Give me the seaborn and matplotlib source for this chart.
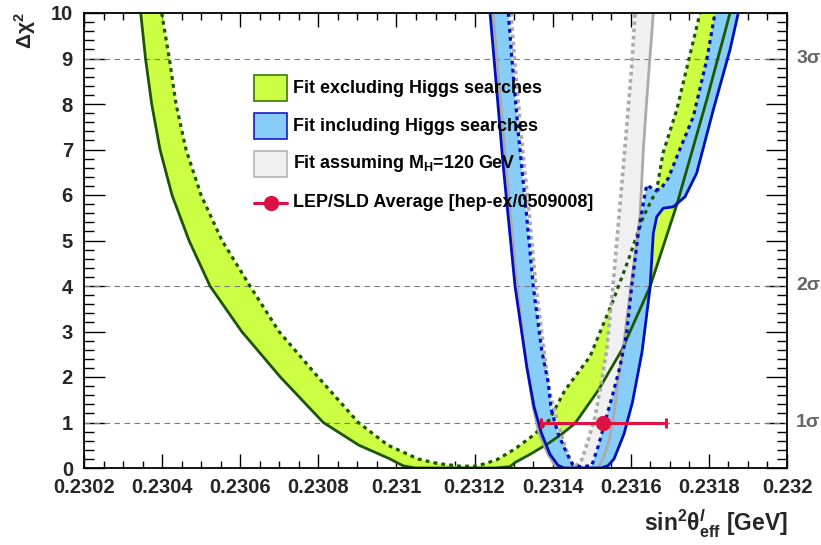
import numpy as np
import matplotlib
matplotlib.use("Agg")
import matplotlib.pyplot as plt
from matplotlib.ticker import MultipleLocator
from matplotlib.patches import Rectangle
import seaborn as sns

# ---------------- data ----------------
# Fit excluding Higgs searches: solid (theory envelope) and dotted curves
gs_x = [0.2303452, 0.2303575, 0.2303733, 0.2303946, 0.2304253, 0.2304689, 0.2305226,
        0.2306038, 0.2307026, 0.2308127, 0.2309041, 0.2309835, 0.2310168, 0.2310475,
        0.2312524, 0.2312908, 0.2313036, 0.2313420, 0.2313889, 0.2314239, 0.2314572,
        0.2315169, 0.2315768, 0.2316492, 0.2317176, 0.2317944, 0.2318541]
gs_y = [10, 9, 8, 7, 6, 5, 4, 3, 2, 1, 0.5, 0.2, 0.05, 0.0,
        0.0, 0.03, 0.12, 0.3, 0.54, 0.75, 0.98, 1.71, 2.59, 3.98, 5.78, 8.09, 10]
gd_x = [0.2303990, 0.2304184, 0.2304356, 0.2304612, 0.2304996, 0.2305533, 0.2306250,
        0.2306993, 0.2307992, 0.2309024, 0.2309784, 0.2310552, 0.2311039, 0.2311627,
        0.2312055, 0.2312567, 0.2313036, 0.2313522, 0.2313906, 0.2314316, 0.2314956,
        0.2315552, 0.2315937, 0.2316321, 0.2316492, 0.2316664, 0.2316825, 0.2317176,
        0.2317773]
gd_y = [10, 9, 8, 7, 6, 5, 4, 3, 2, 1, 0.5, 0.2, 0.1, 0.04,
        0.04, 0.18, 0.42, 0.73, 1.05, 1.71, 2.45, 3.69, 4.57, 5.52, 5.82, 6.11, 6.92, 7.87,
        10]

# Fit including Higgs searches
bs_x = [0.2312396, 0.2312498, 0.2312736, 0.2313036, 0.2313335, 0.2313522, 0.2313714,
        0.2313932, 0.2314137, 0.2314290, 0.2315238, 0.2315417, 0.2315571, 0.2315827,
        0.2316044, 0.2316288, 0.2316492, 0.2316577, 0.2316664, 0.2316832, 0.2317088,
        0.2317388, 0.2317687, 0.2318112, 0.2318540, 0.2318752]
bs_y = [10, 9, 6.62, 4.0, 2.23, 1.35, 0.76, 0.30, 0.06, 0.0, 0.0, 0.05, 0.2, 0.75, 1.45,
        2.55, 3.95, 5.16, 5.52, 5.71, 5.74, 5.96, 6.48, 7.87, 9.19, 10]
bd_x = [0.2312864, 0.2312951, 0.2313120, 0.2313335, 0.2313504, 0.2313719, 0.2313889,
        0.2313958, 0.2314137, 0.2314342, 0.2314508, 0.2314700, 0.2315000, 0.2315174,
        0.2315353, 0.2315532, 0.2315724, 0.2315896, 0.2316024, 0.2316193, 0.2316321,
        0.2316408, 0.2316577, 0.2316748, 0.2316961, 0.2317217, 0.2317601, 0.2317944,
        0.2318157]
bd_y = [10, 9.04, 7.36, 5.52, 3.98, 2.59, 1.86, 1.3, 0.76, 0.36, 0.08, 0.03, 0.05, 0.5,
        1.05, 1.6, 2.23, 2.96, 4.0, 5.16, 5.82, 6.22, 6.13, 6.11, 6.37, 6.92, 7.72, 8.97, 10]

# Fit assuming M_H = 120 GeV
grs_x = [0.2312472, 0.2312574, 0.2312806, 0.2313087, 0.2313343, 0.2313497, 0.2313650,
         0.2313881, 0.2314060, 0.2314214, 0.2315161, 0.2315289, 0.2315443, 0.2315571,
         0.2315673, 0.2315801, 0.2316006, 0.2316236, 0.2316321, 0.2316408, 0.2316577]
grs_y = [10, 9, 6.62, 4.0, 2.23, 1.35, 0.76, 0.30, 0.06, 0.0, 0.0, 0.2, 0.6, 1.2, 1.9,
         2.6, 4.0, 5.52, 6.99, 8.09, 10]
grd_x = [0.2312933, 0.2313023, 0.2313190, 0.2313407, 0.2313573, 0.2313778, 0.2313906,
         0.2314137, 0.2314316, 0.2314495, 0.2314572, 0.2314598, 0.2314744, 0.2314913,
         0.2315084, 0.2315212, 0.2315384, 0.2315532, 0.2315809, 0.2316024, 0.2316108]
grd_y = [10, 9, 7.36, 5.52, 3.98, 2.59, 1.71, 0.98, 0.47, 0.07, 0.02, 0.05, 0.18, 0.62,
         1.13, 1.71, 2.59, 3.9, 6.62, 8.82, 10]

# LEP/SLD average
lep_x = [0.23153]
lep_y = [1.0]
lep_err = [0.00016]

sigma_levels = [1, 4, 9]
sigma_labels = ["1σ", "2σ", "3σ"]
x_ticks = [0.2302, 0.2304, 0.2306, 0.2308, 0.2310, 0.2312, 0.2314, 0.2316, 0.2318, 0.2320]
x_tick_labels = ["0.2302", "0.2304", "0.2306", "0.2308", "0.231", "0.2312", "0.2314",
                 "0.2316", "0.2318", "0.232"]
y_ticks = [0, 1, 2, 3, 4, 5, 6, 7, 8, 9, 10]
legend_labels = ["Fit excluding Higgs searches", "Fit including Higgs searches",
                 r"Fit assuming M$_{\mathbf{H}}$=120 GeV", "LEP/SLD Average [hep-ex/0509008]"]

# ---------------- style ----------------
sns.set_theme(style="ticks")
plt.rcParams["font.family"] = ["Liberation Sans", "DejaVu Sans"]
plt.rcParams["font.weight"] = "bold"
plt.rcParams["mathtext.fontset"] = "custom"
plt.rcParams["mathtext.rm"] = "Liberation Sans"
plt.rcParams["mathtext.bf"] = "Liberation Sans:bold"
plt.rcParams["mathtext.it"] = "Liberation Sans:italic"
plt.rcParams["mathtext.sf"] = "Liberation Sans"

GREEN_FILL = "#ccff44"
GREEN_LINE = "#1d5500"
BLUE_FILL = "#88ccf8"
BLUE_LINE = "#0010b8"
GREY_FILL = "#f0f0f0"
GREY_LINE = "#aaaaaa"
RED = "#dd1144"

fig = plt.figure(figsize=(8.21, 5.45), dpi=100)
ax = fig.add_axes([84 / 821, 77 / 545, 703 / 821, 455 / 545])


def band(sx, sy, dx, dy, color, z):
    px = np.concatenate([np.asarray(sx), np.asarray(dx)[::-1]])
    py = np.concatenate([np.asarray(sy), np.asarray(dy)[::-1]])
    ax.fill(px, py, color=color, lw=0, zorder=z)


band(gs_x, gs_y, gd_x, gd_y, GREEN_FILL, 1)
band(grs_x, grs_y, grd_x, grd_y, GREY_FILL, 2)
band(bs_x, bs_y, bd_x, bd_y, BLUE_FILL, 3)

for lvl in sigma_levels:
    ax.axhline(lvl, color="#7a7a7a", lw=0.8, dashes=(5, 4), zorder=4)


def curve(x, y, color, lw, dotted, z):
    sns.lineplot(x=x, y=y, sort=False, estimator=None, ax=ax, color=color, lw=lw,
                 zorder=z, legend=False)
    ln = ax.lines[-1]
    if dotted:
        ln.set_dashes(dotted)
        ln.set_dash_capstyle("butt")
    ln.set_solid_capstyle("round")
    ln.set_solid_joinstyle("round")
    ln.set_zorder(z)


curve(gs_x, gs_y, GREEN_LINE, 2.0, None, 5)
curve(gd_x, gd_y, GREEN_LINE, 2.3, (1.2, 1.3), 5)
curve(grs_x, grs_y, GREY_LINE, 2.0, None, 6)
curve(grd_x, grd_y, GREY_LINE, 2.6, (1.0, 1.0), 6)
curve(bs_x, bs_y, BLUE_LINE, 2.0, None, 7)
curve(bd_x, bd_y, BLUE_LINE, 2.3, (1.2, 1.3), 7)

ax.errorbar(lep_x, lep_y, xerr=lep_err, fmt="o", color=RED, ms=10, elinewidth=2.2,
            capsize=3.5, capthick=2.2, zorder=8)

ax.set_xlim(0.2302, 0.2320)
ax.set_ylim(0, 10)
ax.set_xticks(x_ticks)
ax.set_xticklabels(x_tick_labels)
ax.set_yticks(y_ticks)
ax.set_yticklabels([str(v) for v in y_ticks])
ax.xaxis.set_minor_locator(MultipleLocator(0.00005))
ax.yaxis.set_minor_locator(MultipleLocator(0.2))
ax.tick_params(axis="x", which="major", direction="in", length=10, width=1.0,
               top=True, bottom=True, labelsize=14.5, pad=7, color="black")
ax.tick_params(axis="x", which="minor", direction="in", length=5, width=1.0,
               top=True, bottom=True, color="black")
ax.tick_params(axis="y", which="major", direction="in", length=15, width=1.0,
               left=True, right=True, labelsize=14.5, pad=8, color="black")
ax.tick_params(axis="y", which="minor", direction="in", length=7.5, width=1.0,
               left=True, right=True, color="black")
for lab in ax.get_xticklabels() + ax.get_yticklabels():
    lab.set_fontweight("bold")
for sp in ax.spines.values():
    sp.set_linewidth(1.3)
    sp.set_color("black")
    sp.set_zorder(10)

# sigma labels on the right
trans = matplotlib.transforms.blended_transform_factory(ax.transAxes, ax.transData)
for lvl, lab in zip(sigma_levels, sigma_labels):
    ax.text(1.013, lvl, lab, transform=trans, ha="left", va="center", fontsize=14,
            color="#666666", fontweight="bold", clip_on=False)

# axis titles
fig.text(25 / 821, 1 - 12 / 545, r"$\mathrm{\Delta\chi^{2}}$", rotation=90, ha="center",
         va="top", fontsize=15, fontweight="normal")
fig.text(788 / 821, (545 - 532) / 545,
         r"sin$^{\mathbf{2}}\mathbf{\theta}^{\mathit{l}}_{\mathbf{eff}}$ [GeV]",
         ha="right", va="baseline", fontsize=16.5, fontweight="bold")

# manual legend
box_x0, box_w = 0.2422, 0.047
box_rows = [(0.8066, 0.0571), (0.7224, 0.0572), (0.6389, 0.0585)]
box_styles = [(GREEN_FILL, "#3a7a00"), (BLUE_FILL, "#1a1acc"), (GREY_FILL, "#b5b5b5")]
for (y0, h), (fc, ec) in zip(box_rows, box_styles):
    ax.add_patch(Rectangle((box_x0, y0), box_w, h, transform=ax.transAxes, facecolor=fc,
                           edgecolor=ec, lw=1.2, zorder=9))
ax.plot([0.2418, 0.2888], [0.5831, 0.5831], transform=ax.transAxes, color=RED, lw=2.2,
        zorder=9)
ax.plot([0.2655], [0.5831], transform=ax.transAxes, marker="o", ms=10, color=RED,
        zorder=9)
text_base = [0.8248, 0.7413, 0.6600, 0.5743]
for yb, lab in zip(text_base, legend_labels):
    ax.text(0.2973, yb, lab, transform=ax.transAxes, ha="left", va="baseline",
            fontsize=12.9, fontweight="bold", color="black", zorder=9)

fig.savefig("out.png", dpi=100)
